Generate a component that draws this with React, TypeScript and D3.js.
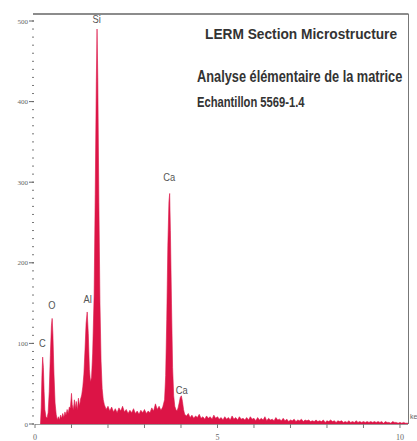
import React from "react";
import * as d3 from "d3";

const W = 417;
const H = 441;

// EDS spectrum: [energy keV, counts]
const spectrum: [number, number][] = [
  [0.15, 0], [0.17, 20], [0.19, 60], [0.21, 83], [0.23, 70], [0.25, 40], [0.27, 18], [0.30, 9],
  [0.33, 7], [0.36, 14], [0.39, 40], [0.42, 85], [0.45, 122], [0.47, 131], [0.49, 112], [0.52, 62],
  [0.55, 26], [0.58, 12], [0.61, 5], [0.64, 9], [0.67, 5], [0.70, 11], [0.73, 7], [0.76, 13],
  [0.79, 8], [0.82, 15], [0.85, 11], [0.88, 18], [0.91, 13], [0.94, 21], [0.97, 20], [1.00, 38],
  [1.02, 24], [1.05, 17], [1.08, 30], [1.10, 19], [1.13, 28], [1.16, 17], [1.19, 32], [1.22, 22],
  [1.25, 31], [1.28, 36], [1.31, 46], [1.34, 62], [1.37, 92], [1.40, 125], [1.43, 139], [1.46, 112],
  [1.49, 68], [1.52, 52], [1.55, 58], [1.58, 88], [1.62, 160], [1.65, 285], [1.68, 425], [1.70, 490],
  [1.72, 430], [1.75, 275], [1.78, 150], [1.81, 78], [1.84, 44], [1.87, 30], [1.90, 24], [1.95, 18],
  [2.00, 22], [2.05, 16], [2.10, 21], [2.15, 15], [2.20, 19], [2.25, 14], [2.30, 20], [2.35, 16],
  [2.40, 22], [2.45, 15], [2.50, 18], [2.55, 13], [2.60, 17], [2.65, 14], [2.70, 19], [2.75, 13],
  [2.80, 16], [2.85, 12], [2.90, 17], [2.95, 14], [3.00, 18], [3.05, 13], [3.10, 16], [3.15, 14],
  [3.20, 20], [3.25, 16], [3.30, 25], [3.35, 18], [3.40, 22], [3.45, 17], [3.50, 21], [3.55, 30],
  [3.58, 60], [3.61, 130], [3.64, 222], [3.67, 276], [3.69, 286], [3.71, 240], [3.74, 150], [3.77, 70],
  [3.80, 35], [3.83, 22], [3.86, 18], [3.89, 16], [3.92, 20], [3.95, 26], [3.98, 33], [4.01, 35],
  [4.04, 28], [4.07, 18], [4.10, 12], [4.15, 10], [4.20, 13], [4.25, 8], [4.30, 11], [4.35, 7],
  [4.40, 10], [4.45, 8], [4.50, 12], [4.55, 7], [4.60, 9], [4.65, 6], [4.70, 10], [4.75, 7],
  [4.80, 9], [4.85, 6], [4.90, 11], [4.95, 7], [5.00, 9], [5.05, 6], [5.10, 8], [5.15, 5],
  [5.20, 9], [5.25, 6], [5.30, 8], [5.35, 5], [5.40, 10], [5.45, 6], [5.50, 8], [5.55, 5],
  [5.60, 9], [5.65, 6], [5.70, 7], [5.75, 5], [5.80, 8], [5.85, 5], [5.90, 9], [5.95, 6],
  [6.00, 7], [6.05, 4], [6.10, 8], [6.15, 5], [6.20, 7], [6.25, 5], [6.30, 9], [6.35, 4],
  [6.40, 7], [6.45, 5], [6.50, 6], [6.55, 4], [6.60, 8], [6.65, 5], [6.70, 6], [6.75, 4],
  [6.80, 7], [6.85, 4], [6.90, 6], [6.95, 3], [7.00, 5], [7.05, 4], [7.10, 6], [7.15, 3],
  [7.20, 5], [7.25, 4], [7.30, 6], [7.35, 3], [7.40, 5], [7.45, 4], [7.50, 5], [7.55, 3],
  [7.60, 4], [7.65, 3], [7.70, 5], [7.75, 3], [7.80, 4], [7.85, 3], [7.90, 5], [7.95, 2],
  [8.00, 4], [8.05, 3], [8.10, 5], [8.15, 3], [8.20, 4], [8.25, 2], [8.30, 4], [8.35, 3],
  [8.40, 4], [8.45, 2], [8.50, 3], [8.55, 2], [8.60, 4], [8.65, 2], [8.70, 3], [8.75, 2],
  [8.80, 4], [8.85, 2], [8.90, 3], [8.95, 2], [9.00, 3], [9.05, 2], [9.10, 3], [9.15, 2],
  [9.20, 3], [9.25, 2], [9.30, 3], [9.35, 2], [9.40, 3], [9.45, 2], [9.50, 3], [9.55, 1],
  [9.60, 3], [9.65, 2], [9.70, 2], [9.75, 1], [9.80, 3], [9.85, 2], [9.90, 2], [9.95, 1],
  [10.00, 2], [10.05, 1], [10.10, 2], [10.15, 1], [10.22, 1],
];

// Peak labels: [element, energy keV, label counts]
const peakLabels: [string, number, number][] = [
  ["C", 0.2, 95],
  ["O", 0.46, 143],
  ["Al", 1.44, 150],
  ["Si", 1.69, 498],
  ["Ca", 3.68, 302],
  ["Ca", 4.02, 37],
];

const yTicks = [0, 100, 200, 300, 400, 500];
const yMinor = d3.range(0, 510, 10);
const xTicks = [0, 5, 10];
const xMinor = d3.range(0, 11, 1);

const titles = [
  "LERM Section Microstructure",
  "Analyse élémentaire de la matrice",
  "Echantillon 5569-1.4",
];

export default function App() {
  const x = d3.scaleLinear().domain([0, 10.22]).range([35, 408]);
  const y = d3.scaleLinear().domain([0, 500]).range([424, 21]);
  const area = d3
    .area<[number, number]>()
    .x((d) => x(d[0]))
    .y0(y(0))
    .y1((d) => y(d[1]));
  const red = "#dc1446";
  const grey = "#555";
  const font = "'Liberation Sans', Arial, sans-serif";
  return (
    <svg
      width={W}
      height={H}
      style={{ position: "absolute", left: 0, top: 0, background: "#fff" }}
      fontFamily={font}
    >
      <rect x={0} y={0} width={W} height={H} fill="#fff" />
      <path d={area(spectrum) ?? ""} fill={red} stroke={red} strokeWidth={0.6} />
      {/* frame */}
      <line x1={33} x2={408.5} y1={14} y2={14} stroke="#666" strokeWidth={1.5} />
      <line x1={408.5} x2={408.5} y1={14} y2={424} stroke="#777" strokeWidth={1} />
      <line x1={35} x2={408} y1={424.5} y2={424.5} stroke="#888" strokeWidth={0.8} />
      {/* y axis */}
      {yMinor.map((v) => (
        <line key={"ym" + v} x1={32} x2={34} y1={y(v)} y2={y(v)} stroke="#777" strokeWidth={1} />
      ))}
      {yTicks.map((v) => (
        <g key={"y" + v}>
          <line x1={29} x2={34} y1={y(v)} y2={y(v)} stroke="#666" strokeWidth={1} />
          <text x={28} y={y(v) + 2.5} fontSize={7} textAnchor="end" fill="#666" fontFamily="'Liberation Serif', serif">
            {v}
          </text>
        </g>
      ))}
      {/* x axis */}
      {xMinor.map((v) => (
        <line key={"xm" + v} x1={x(v)} x2={x(v)} y1={424} y2={428} stroke="#777" strokeWidth={1} />
      ))}
      {xTicks.map((v) => (
        <text key={"x" + v} x={x(v)} y={440} fontSize={8} textAnchor="middle" fill="#666" fontFamily="'Liberation Serif', serif">
          {v}
        </text>
      ))}
      <text x={410} y={419} fontSize={7} fill="#666">ke</text>
      {/* peak labels */}
      {peakLabels.map(([el, e, c], i) => (
        <g key={"p" + i} transform={`translate(${x(e)},${y(c)}) scale(0.85,1)`}>
          <text x={0} y={0} fontSize={11} textAnchor="middle" fill={grey}>
            {el}
          </text>
        </g>
      ))}
      {/* titles */}
      <g transform="translate(205,39) scale(0.98,1)">
        <text x={0} y={0} fontSize={14} fontWeight="bold" fill="#333">{titles[0]}</text>
      </g>
      <g transform="translate(197,82) scale(0.8,1)">
        <text x={0} y={0} fontSize={16} fontWeight="bold" fill="#333">{titles[1]}</text>
      </g>
      <g transform="translate(197,107) scale(0.8,1)">
        <text x={0} y={0} fontSize={14} fontWeight="bold" fill="#333">{titles[2]}</text>
      </g>
    </svg>
  );
}
